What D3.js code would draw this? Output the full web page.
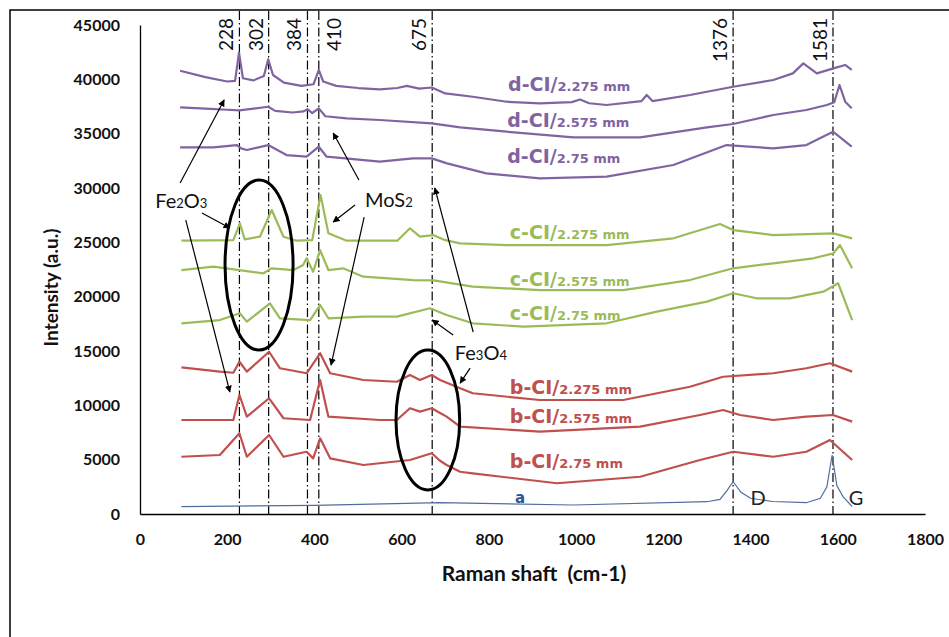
<!DOCTYPE html>
<html>
<head>
<meta charset="utf-8">
<script src="https://cdn.jsdelivr.net/npm/d3@7.9.0/dist/d3.min.js"></script>
<style>
  body { margin: 0; background: #fff; }
  svg { display: block; }
</style>
</head>
<body>
<svg id="chart" width="949" height="637"></svg>
<script>
// values (Raman shift cm-1, intensity a.u.)
const xTicks = [0, 200, 400, 600, 800, 1000, 1200, 1400, 1600, 1800];
const yTicks = [0, 5000, 10000, 15000, 20000, 25000, 30000, 35000, 40000, 45000];

const peakPos = [228, 295, 384, 410, 670, 1360, 1589];
const peakLabels = ['228', '302', '384', '410', '675', '1376', '1581'];

const dCI2275 = [[92,40790],[150,40200],[200,39800],[218,39850],[227,42450],[236,40100],[260,39900],[284,40300],[294,41840],[305,40400],[330,39700],[370,39400],[398,39550],[410,40860],[420,39800],[450,39400],[500,39200],[550,39080],[590,39200],[612,39400],[640,39150],[669,39250],[700,38700],[763,38400],[841,37940],[917,37790],[990,37900],[1009,38150],[1030,37800],[1070,37640],[1150,38000],[1162,38560],[1175,38000],[1261,38560],[1360,39320],[1452,39940],[1497,40550],[1521,41470],[1552,40550],[1590,41010],[1617,41320],[1632,40860]];
const dCI2575 = [[92,37420],[150,37300],[200,37200],[228,37150],[260,37300],[294,37480],[310,37100],[350,36950],[375,37050],[384,37250],[395,36900],[410,37330],[425,36600],[474,36400],[550,36260],[669,35950],[734,35580],[841,35180],[994,34660],[1147,34660],[1300,35580],[1360,35890],[1452,36720],[1528,37180],[1575,37640],[1592,37900],[1604,39480],[1617,37940],[1632,37330]];
const dCI275 = [[92,33740],[168,33740],[222,33950],[232,33650],[245,33500],[294,33950],[336,33030],[382,32880],[410,33800],[428,32880],[550,32420],[626,32730],[669,32730],[704,32270],[794,31350],[917,30890],[1070,31040],[1223,32120],[1345,33950],[1452,33650],[1528,33950],[1589,35180],[1632,33800]];

const cCI2275 = [[95,25150],[214,25210],[229,26750],[240,25280],[275,25520],[302,27970],[329,25520],[359,25150],[395,25210],[414,29350],[432,25830],[474,25150],[590,25150],[619,26290],[642,25520],[672,25670],[700,25200],[734,24910],[841,24750],[1070,24750],[1223,25370],[1330,26690],[1360,26130],[1452,25670],[1590,25830],[1633,25370]];
const cCI2575 = [[95,22450],[168,22760],[283,22150],[302,22610],[352,22450],[374,22910],[382,23530],[397,22300],[413,24290],[432,22450],[466,22610],[512,21840],[627,21530],[673,21500],[763,20920],[917,20610],[1108,20610],[1261,21530],[1360,22610],[1452,23070],[1544,23530],[1590,23990],[1605,24750],[1633,22610]];
const cCI275 = [[95,17550],[183,17850],[229,18470],[245,17700],[298,19390],[321,18010],[390,17850],[413,19230],[432,18010],[512,18160],[589,18160],[665,18930],[703,18310],[763,17550],[880,17240],[1070,17550],[1185,18620],[1300,19540],[1360,20310],[1414,19850],[1490,19850],[1567,20460],[1601,21230],[1633,17850]];

const bCI2275 = [[95,13500],[183,13100],[214,13000],[228,14010],[245,13100],[296,14930],[321,13410],[382,12950],[413,14790],[436,12950],[512,12330],[589,12170],[619,12790],[642,12330],[669,12790],[688,12330],[734,11570],[763,11110],[917,10490],[1108,10490],[1261,11710],[1337,12630],[1452,12950],[1528,13410],[1582,13870],[1633,13100]];
const bCI2575 = [[95,8650],[214,8650],[228,10950],[245,8960],[296,10650],[329,8810],[390,8650],[413,12330],[432,8960],[550,8650],[589,8650],[619,9730],[642,9420],[669,9730],[688,9300],[703,8960],[734,8040],[917,7580],[1147,8040],[1284,9110],[1337,9570],[1376,9110],[1452,8650],[1528,8960],[1589,9110],[1633,8500]];
const bCI275 = [[95,5270],[183,5430],[228,7430],[245,5270],[296,7270],[329,5270],[382,5730],[397,5120],[413,6970],[436,5120],[512,4510],[619,4970],[669,5590],[688,4900],[703,4510],[734,3890],[763,3740],[956,2830],[1147,3430],[1284,4970],[1360,5730],[1452,5270],[1528,5730],[1582,6810],[1633,4970]];

const aSpectrum = [[95,670],[400,800],[688,1040],[994,830],[1300,1130],[1330,1350],[1345,2100],[1360,2970],[1378,2000],[1400,1450],[1450,1150],[1528,1040],[1560,1450],[1575,2500],[1587,5430],[1598,2600],[1612,1600],[1633,670]];

const purple = '#8064a2', green = '#9bbb59', red = '#c0504d', blue = '#4f6e9f';

// label position given in chart units (x cm-1, y intensity)
const series = [
  { name: 'd-CI/', size: '2.275 mm', data: dCI2275, color: purple, lx: 844, ly: 39480 },
  { name: 'd-CI/', size: '2.575 mm', data: dCI2575, color: purple, lx: 842, ly: 36160 },
  { name: 'd-CI/', size: '2.75 mm',  data: dCI275,  color: purple, lx: 842, ly: 32850 },
  { name: 'c-CI/', size: '2.275 mm', data: cCI2275, color: green,  lx: 848, ly: 25860 },
  { name: 'c-CI/', size: '2.575 mm', data: cCI2575, color: green,  lx: 848, ly: 21530 },
  { name: 'c-CI/', size: '2.75 mm',  data: cCI275,  color: green,  lx: 848, ly: 18400 },
  { name: 'b-CI/', size: '2.275 mm', data: bCI2275, color: red,    lx: 848, ly: 11590 },
  { name: 'b-CI/', size: '2.575 mm', data: bCI2575, color: red,    lx: 848, ly: 8930 },
  { name: 'b-CI/', size: '2.75 mm',  data: bCI275,  color: red,    lx: 848, ly: 4790 }
];

const svg = d3.select('#chart');
const x = d3.scaleLinear().domain([0, 1800]).range([140, 925]);
const y = d3.scaleLinear().domain([0, 45000]).range([514, 25]);

// outer frame (runs off the picture on the right and bottom)
svg.append('rect')
  .attr('x', 10).attr('y', 10).attr('width', 980).attr('height', 680)
  .attr('fill', 'none').attr('stroke', '#000').attr('stroke-width', 1.5);

// axes
const yAxis = svg.append('g').attr('transform', `translate(${x(0)},0)`)
  .call(d3.axisLeft(y).tickValues(yTicks).tickSize(0).tickPadding(20).tickFormat(d3.format('d')));
const xAxis = svg.append('g').attr('transform', `translate(0,${y(0)})`)
  .call(d3.axisBottom(x).tickValues(xTicks).tickSize(0).tickPadding(20).tickFormat(d3.format('d')));
[xAxis, yAxis].forEach(g => {
  g.select('.domain').attr('stroke', '#000').attr('stroke-width', 1.3);
  g.selectAll('text').attr('font-family', 'Lato, sans-serif').attr('font-weight', 'bold')
    .attr('font-size', 16).attr('fill', '#111');
});

svg.append('text')
  .attr('transform', `translate(58,${(y(0) + y(45000)) / 2 + 18}) rotate(-90)`)
  .attr('text-anchor', 'middle')
  .attr('font-family', 'Lato, sans-serif').attr('font-weight', 'bold').attr('font-size', 19)
  .attr('fill', '#111')
  .text('Intensity (a.u.)');

svg.append('text')
  .attr('x', 534).attr('y', 581)
  .attr('text-anchor', 'middle')
  .attr('font-family', 'Lato, sans-serif').attr('font-weight', 'bold').attr('font-size', 21)
  .attr('fill', '#111')
  .attr('xml:space', 'preserve')
  .text('Raman shaft  (cm-1)');

// peak guide lines
const peaks = svg.append('g');
peakPos.forEach((p, i) => {
  peaks.append('line')
    .attr('x1', x(p)).attr('x2', x(p)).attr('y1', 11).attr('y2', y(0))
    .attr('stroke', '#000').attr('stroke-width', 1.2)
    .attr('stroke-dasharray', '9,3,1.5,3');
  const dx = peakLabels[i] === '410' ? 22 : -6;
  peaks.append('text')
    .attr('transform', `translate(${x(p) + dx},18) rotate(-90)`)
    .attr('text-anchor', 'end')
    .attr('font-family', 'Lato, sans-serif').attr('font-size', 19)
    .attr('fill', '#111')
    .text(peakLabels[i]);
});

// spectra
const line = d3.line().x(d => x(d[0])).y(d => y(d[1]));

svg.append('path')
  .datum(aSpectrum)
  .attr('d', line)
  .attr('fill', 'none').attr('stroke', blue).attr('stroke-width', 1.2);

series.forEach(s => {
  svg.append('path')
    .datum(s.data)
    .attr('d', line)
    .attr('fill', 'none').attr('stroke', s.color).attr('stroke-width', 2.2)
    .attr('stroke-linejoin', 'round');
  const t = svg.append('text')
    .attr('x', x(s.lx)).attr('y', y(s.ly) + 6)
    .attr('font-family', '"DejaVu Sans", sans-serif').attr('font-weight', 'bold')
    .attr('fill', s.color);
  t.append('tspan').attr('font-size', 19).text(s.name);
  t.append('tspan').attr('font-size', 13).text(s.size);
});

svg.append('text')
  .attr('x', x(860)).attr('y', y(1560) + 6)
  .attr('font-family', '"DejaVu Sans", sans-serif').attr('font-weight', 'bold').attr('font-size', 15)
  .attr('fill', '#2f5597')
  .text('a');

['D', 'G'].forEach((lab, i) => {
  svg.append('text')
    .attr('x', x([1400, 1625][i])).attr('y', y(1560) + 8)
    .attr('font-family', 'Lato, sans-serif').attr('font-size', 20)
    .attr('fill', '#222')
    .text(lab);
});

// annotations: ellipses, arrows, compound labels
svg.append('defs').append('marker')
  .attr('id', 'arrow').attr('viewBox', '0 0 10 10')
  .attr('refX', 9).attr('refY', 5)
  .attr('markerWidth', 7).attr('markerHeight', 7)
  .attr('markerUnits', 'userSpaceOnUse')
  .attr('orient', 'auto')
  .append('path').attr('d', 'M0,0L10,5L0,10z').attr('fill', '#000');

const ellipses = [
  { cx: 273, cy: 22910, rx: 78, ry: 7820 },
  { cx: 660, cy: 8650, rx: 73, ry: 6440 }
];
ellipses.forEach(e => {
  svg.append('ellipse')
    .attr('cx', x(e.cx)).attr('cy', y(e.cy))
    .attr('rx', x(e.rx) - x(0)).attr('ry', y(0) - y(e.ry))
    .attr('fill', 'none').attr('stroke', '#000').attr('stroke-width', 3);
});

const arrows = [
  [[92, 30460], [193, 38100]],
  [[142, 27700], [206, 26320]],
  [[105, 27050], [206, 11230]],
  [[502, 30730], [443, 35060]],
  [[493, 28430], [443, 26870]],
  [[514, 27330], [438, 13710]],
  [[718, 16470], [670, 17850]],
  [[764, 16750], [676, 30000]],
  [[757, 13430], [734, 12050]]
];
arrows.forEach(([a, b]) => {
  svg.append('line')
    .attr('x1', x(a[0])).attr('y1', y(a[1]))
    .attr('x2', x(b[0])).attr('y2', y(b[1]))
    .attr('stroke', '#000').attr('stroke-width', 1.2)
    .attr('marker-end', 'url(#arrow)');
});

const compounds = [
  { parts: ['Fe', '2', 'O', '3'], at: [35, 28160] },
  { parts: ['MoS', '2'], at: [516, 28250] },
  { parts: ['Fe', '3', 'O', '4'], at: [722, 14170] }
];
compounds.forEach(c => {
  const t = svg.append('text')
    .attr('x', x(c.at[0])).attr('y', y(c.at[1]))
    .attr('font-family', 'Lato, sans-serif').attr('fill', '#111');
  c.parts.forEach((p, i) => {
    t.append('tspan').attr('font-size', i % 2 ? 13 : 20).text(p);
  });
});
</script>
</body>
</html>
